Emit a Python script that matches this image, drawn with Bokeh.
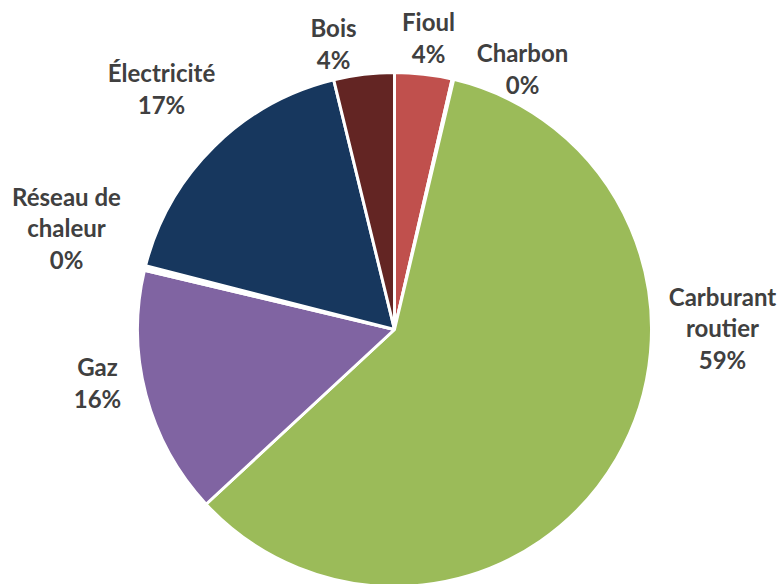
import math
from bokeh.plotting import figure
from bokeh.models import ColumnDataSource, Range1d
from bokeh.core.properties import value
from bokeh.embed import file_html
from bokeh.resources import INLINE

# Data (clockwise from 12 o'clock)
categories = ["Fioul", "Charbon", "Carburant routier", "Gaz", "Réseau de chaleur", "Électricité", "Bois"]
shares = [3.6, 0.1, 59.4, 15.6, 0.3, 17.2, 3.8]
label_lines = [["Fioul"], ["Charbon"], ["Carburant", "routier"], ["Gaz"],
               ["Réseau de", "chaleur"], ["Électricité"], ["Bois"]]

# Styles / layout
colors = ["#C0504D", "#FFFFFF", "#9BBB59", "#8064A2", "#FFFFFF", "#17375E", "#632523"]
W, H = 779, 584
cx, cy_px, R = 394, 329, 257
label_centers_px = [(428, 37), (522, 68), (722, 327), (97, 382), (66, 227), (161, 88), (333, 43)]
LINE = 31.5
FONT = "Lato"
FSIZE = "24px"

cy = H - cy_px
total = sum(shares)
starts, ends = [], []
cum = 0.0
for v in shares:
    a0 = math.pi / 2 - 2 * math.pi * cum / total
    cum += v
    a1 = math.pi / 2 - 2 * math.pi * cum / total
    starts.append(a1)
    ends.append(a0)

wsrc = ColumnDataSource(dict(start=starts, end=ends, color=colors, name=categories))

p = figure(width=W, height=H, x_range=Range1d(0, W), y_range=Range1d(0, H),
           output_backend="svg", toolbar_location=None, min_border=0)
p.axis.visible = False
p.grid.visible = False
p.outline_line_color = None
p.background_fill_color = "white"

p.wedge(x=cx, y=cy, radius=R, start_angle="start", end_angle="end", color="color",
        line_color="white", line_width=3, source=wsrc)

tx, ty, tt = [], [], []
for lines, v, (lx, ly) in zip(label_lines, shares, label_centers_px):
    all_lines = lines + [f"{round(v / total * 100)}%"]
    n = len(all_lines)
    for i, t in enumerate(all_lines):
        tx.append(lx)
        ty.append(H - (ly + (i - (n - 1) / 2) * LINE))
        tt.append(t)

p.text(x=tx, y=ty, text=tt, text_align="center", text_baseline="middle",
       text_font=value(FONT), text_font_size=FSIZE, text_font_style="bold",
       text_color="#404040")

open("out.html", "w").write(file_html(p, INLINE))
